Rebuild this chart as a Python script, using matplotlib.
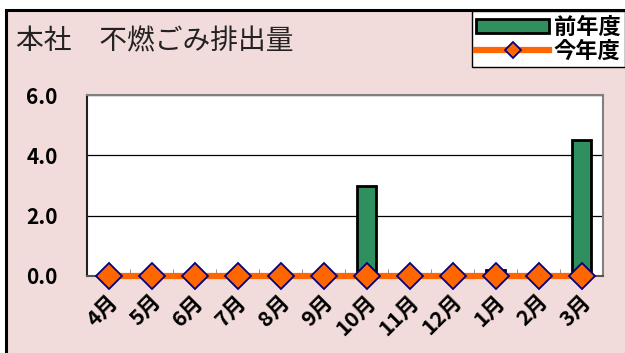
import numpy as np
import matplotlib.pyplot as plt
from matplotlib.patches import Rectangle
from matplotlib.transforms import ScaledTranslation

plt.rcParams['font.family'] = ['Noto Sans CJK JP', 'DejaVu Sans']

months = ["4月", "5月", "6月", "7月", "8月", "9月", "10月", "11月", "12月", "1月", "2月", "3月"]
last_year = [0, 0, 0, 0, 0, 0, 3.0, 0, 0, 0.2, 0, 4.5]
this_year = [0, 0, 0, 0, 0, 0, 0, 0, 0, 0, 0, 0]
yticks = [0.0, 2.0, 4.0, 6.0]

bg = "#F2DCDB"
fig = plt.figure(figsize=(6.25, 3.53), dpi=100, facecolor="white")

# outer chart frame, kept behind the axes
fig.patches.append(Rectangle((6 / 625, -0.01), 1.0, (353 - 10) / 353 + 0.01,
                             transform=fig.transFigure, facecolor=bg,
                             edgecolor="black", linewidth=2.2, zorder=-10))

ax = fig.add_axes([87 / 625, (353 - 276) / 353, (603 - 87) / 625, (276 - 95) / 353])
ax.set_facecolor("white")

x = np.arange(len(months))
bars = ax.bar(x, last_year, width=0.42, color="#2F8F5E", edgecolor="black",
              linewidth=2, label="前年度", zorder=3)
line, = ax.plot(x, this_year, color="#FF6600", linewidth=4.5, marker="D", markersize=13,
                markerfacecolor="#FF6600", markeredgecolor="#000080", markeredgewidth=1.3,
                label="今年度", zorder=4, clip_on=False)

ax.set_xlim(-0.5, len(months) - 0.5)
ax.set_ylim(0, 6)
ax.set_yticks(yticks)
ax.set_yticklabels([f"{v:.1f}" for v in yticks], fontsize=15, fontweight="bold")
ax.yaxis.grid(True, color="black", linewidth=0.9, zorder=1)
ax.set_axisbelow(True)

ax.set_xticks(x)
ax.set_xticklabels(months, rotation=45, ha="right", va="center", rotation_mode="anchor",
                   fontsize=15.5, fontweight="bold")
ax.tick_params(axis="x", length=0, pad=16)
for lbl in ax.get_xticklabels():
    lbl.set_transform(lbl.get_transform() + ScaledTranslation(6 / 100, 0, fig.dpi_scale_trans))
ax.set_xticks(np.arange(0.5, len(months) - 0.5), minor=True)
ax.tick_params(axis="x", which="minor", direction="in", length=5, color="gray")
ax.tick_params(axis="y", length=0, pad=21)

for side in ["top", "right"]:
    ax.spines[side].set_color("#808080")
    ax.spines[side].set_linewidth(1.5)
ax.spines["left"].set_color("#222222")
ax.spines["bottom"].set_color("#555555")
ax.spines["left"].set_linewidth(1.5)
ax.spines["bottom"].set_linewidth(1.5)

fig.text(16 / 625, 1 - 41 / 353, "本社　不燃ごみ排出量", fontsize=20, va="center",
         ha="left", color="#222222")

leg = fig.legend([bars, line], ["前年度", "今年度"], loc="upper right",
                 bbox_to_anchor=(1.0, 1 - 11 / 353),
                 prop={"size": 16, "weight": "bold"}, frameon=True, fancybox=False,
                 edgecolor="black", framealpha=1, handlelength=3.3, handleheight=0.6,
                 handletextpad=0.2, borderpad=0.2, labelspacing=0.05,
                 borderaxespad=0, markerscale=0.6)
leg.get_frame().set_linewidth(1)

fig.savefig("out.png", dpi=100, facecolor="white")
